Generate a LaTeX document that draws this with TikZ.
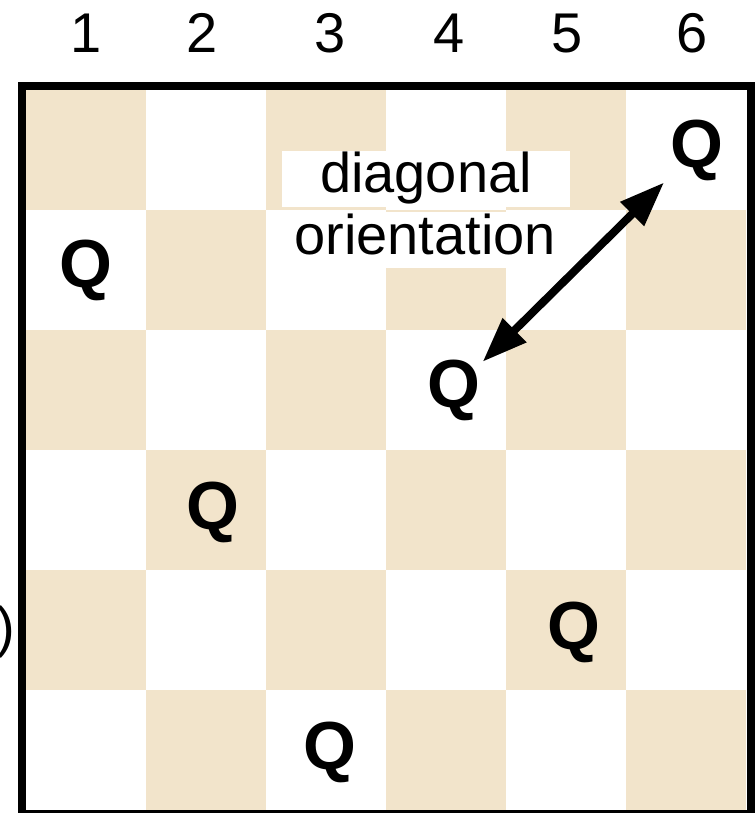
\documentclass[tikz,border=0pt]{standalone}
\usepackage{fontspec}
\setmainfont{Liberation Sans}
\usepackage{xcolor}
\usetikzlibrary{arrows.meta,positioning}
\definecolor{boardtan}{RGB}{242,228,203}

\begin{document}
\begin{tikzpicture}[x=1pt,y=-1pt,
    num/.style={font=\fontsize{56}{60}\selectfont,inner sep=0pt,anchor=base},
    queen/.style={font=\fontsize{68}{70}\selectfont\bfseries,inner sep=2pt},
    lbl/.style={fill=white,font=\fontsize{56}{60}\selectfont,inner sep=0pt,
                text height=42pt,text depth=14pt},
    dbl/.style={line width=8pt,{Triangle[length=45pt,width=32pt]}-{Triangle[length=45pt,width=32pt]}}]
  \useasboundingbox (0,0) rectangle (755,813);
  % squares of the board
  \foreach \r in {1,...,6} {
    \foreach \c in {1,...,6} {
      \pgfmathtruncatemacro\odd{mod(\r+\c,2)}
      \ifnum\odd=0
        \fill[boardtan] ({26+120*(\c-1)},{90+120*(\r-1)}) rectangle +(120,120);
      \fi
    }
  }
  % column numbers
  \foreach \c/\x in {1/86,2/202,3/330,4/449,5/567,6/692} {
    \node[num] (col\c) at (\x,53) {\c};
  }
  \node[num,anchor=base east] (paren) at (15,646) {)};
  % label on white
  \node[lbl,minimum width=288pt] (diag) at (426,179) {diagonal};
  \node[lbl,minimum width=314pt] (orient) at (425,240) {orientation};
  % queens
  \node[queen] (q1) at (697,150) {Q};
  \node[queen] (q2) at (86,270) {Q};
  \node[queen] (q3) at (454,390) {Q};
  \node[queen] (q4) at (213,512) {Q};
  \node[queen] (q5) at (574,632) {Q};
  \node[queen] (q6) at (330,752) {Q};
  \draw[dbl,shorten >=6pt] (q3) -- (q1);
  % frame
  \draw[line width=8pt] (22,86) rectangle (751,814);
\end{tikzpicture}
\end{document}
